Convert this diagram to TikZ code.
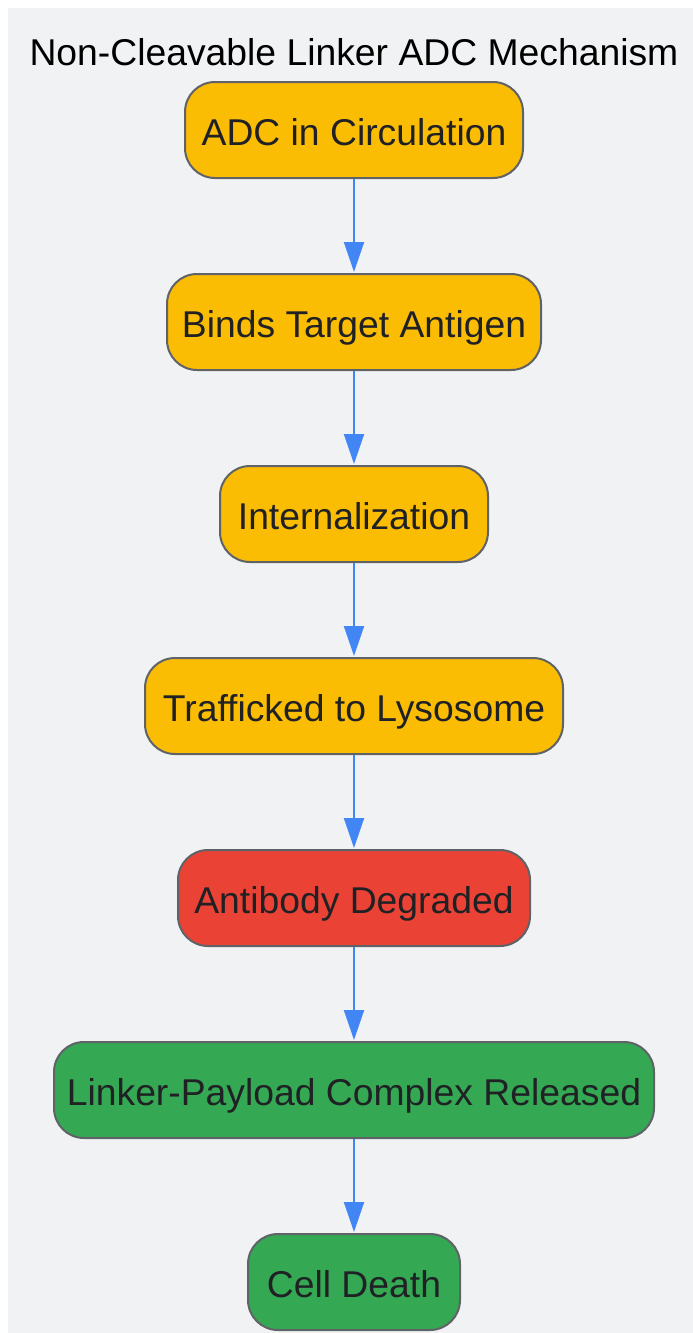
\documentclass[tikz,border=0pt]{standalone}
\usepackage{fontspec}
\setmainfont{Liberation Sans}
\usetikzlibrary{arrows.meta}
\definecolor{bg}{HTML}{F1F2F4}
\definecolor{yel}{HTML}{FBBC04}
\definecolor{redc}{HTML}{EA4335}
\definecolor{grn}{HTML}{34A853}
\definecolor{edge}{HTML}{5F6368}
\definecolor{arr}{HTML}{4285F4}
\definecolor{txt}{HTML}{202124}
\begin{document}
\begin{tikzpicture}[x=1pt,y=-1pt,
  stepbox/.style={draw=edge, line width=2pt, rounded corners=30pt, minimum height=96pt,
    inner xsep=0pt, text height=30pt, text depth=0pt, text=txt, font=\fontsize{37.3}{42}\selectfont},
  flow/.style={draw=arr, line width=2pt, -{Triangle[length=30pt,width=20pt]}, shorten >=1pt}]
\useasboundingbox (0,0) rectangle (693,1333);
\fill[white] (0,0) rectangle (693,1333);
\fill[bg] (8,8) rectangle (693,1333);
\node[font=\fontsize{37.3}{42}\selectfont, text=black] (title) at (354,52) {Non-Cleavable Linker ADC Mechanism};
\node[stepbox, fill=yel, minimum width=338pt] (n1) at (354,130) {ADC in Circulation};
\node[stepbox, fill=yel, minimum width=374pt] (n2) at (354,322) {Binds Target Antigen};
\node[stepbox, fill=yel, minimum width=268pt] (n3) at (354,514) {Internalization};
\node[stepbox, fill=yel, minimum width=418pt] (n4) at (354,706) {Trafficked to Lysosome};
\node[stepbox, fill=redc, minimum width=352pt] (n5) at (354,898) {Antibody Degraded};
\node[stepbox, fill=grn, minimum width=600pt] (n6) at (354,1090) {Linker-Payload Complex Released};
\node[stepbox, fill=grn, minimum width=212pt] (n7) at (354,1282) {Cell Death};
\draw[flow] (n1) -- (n2);
\draw[flow] (n2) -- (n3);
\draw[flow] (n3) -- (n4);
\draw[flow] (n4) -- (n5);
\draw[flow] (n5) -- (n6);
\draw[flow] (n6) -- (n7);
\end{tikzpicture}
\end{document}
